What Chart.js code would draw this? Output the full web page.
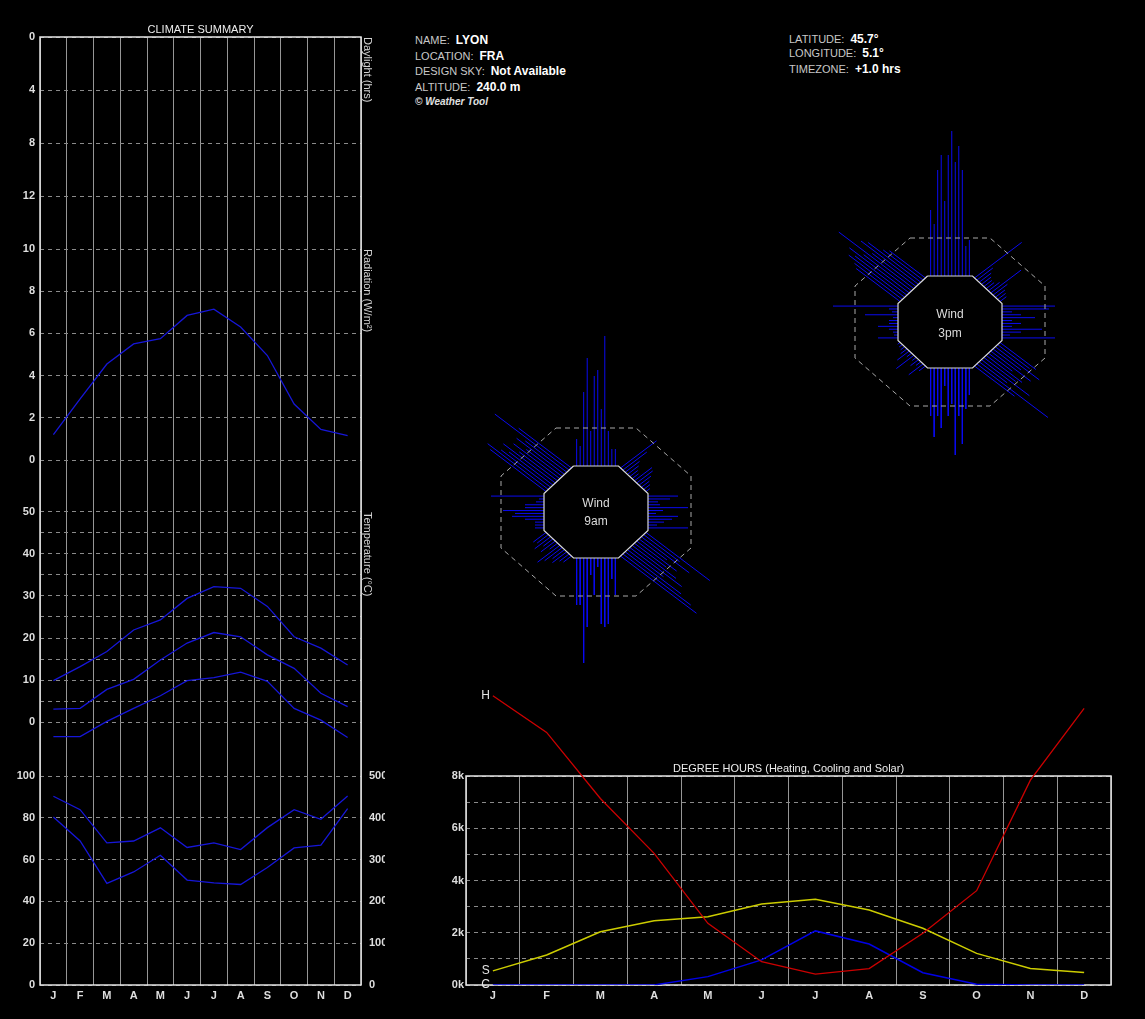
<!DOCTYPE html>
<html>
<head>
<meta charset="utf-8">
<script src="https://cdn.jsdelivr.net/npm/chart.js@4"></script>
<style>
  html, body { margin: 0; padding: 0; background: #000; }
  body { width: 1145px; height: 1019px; position: relative; overflow: hidden; font-family: Arial, "Liberation Sans", sans-serif; }
  canvas { position: absolute; }
  .info { position: absolute; font-size: 11px; line-height: 14px; color: #c8c8c8; white-space: nowrap; }
  .info b { color: #fff; font-size: 12px; margin-left: 6px; }
  .copy { position: absolute; left: 415px; top: 96px; font-size: 10px; line-height: 12px; font-style: italic; font-weight: bold; color: #e0e0e0; }
  .wtag { position: absolute; width: 60px; text-align: center; font-size: 12px; line-height: 14px; color: #dcdcdc; }
</style>
</head>
<body>
<canvas id="climate" width="385" height="1010" style="left:0;top:0"></canvas>
<canvas id="wind9" width="280" height="400" style="left:456px;top:312px"></canvas>
<canvas id="wind3" width="280" height="400" style="left:810px;top:122px"></canvas>
<canvas id="degree" width="715" height="330" style="left:410px;top:680px"></canvas>

<div class="info" style="left:415px;top:33px">NAME:<b>LYON</b></div>
<div class="info" style="left:415px;top:49px">LOCATION:<b>FRA</b></div>
<div class="info" style="left:415px;top:64px">DESIGN SKY:<b>Not Available</b></div>
<div class="info" style="left:415px;top:80px">ALTITUDE:<b>240.0 m</b></div>
<div class="copy">© Weather Tool</div>
<div class="info" style="left:789px;top:32px">LATITUDE:<b>45.7°</b></div>
<div class="info" style="left:789px;top:46px">LONGITUDE:<b>5.1°</b></div>
<div class="info" style="left:789px;top:62px">TIMEZONE:<b>+1.0 hrs</b></div>

<div class="wtag" style="left:566px;top:496px">Wind</div>
<div class="wtag" style="left:566px;top:514px">9am</div>
<div class="wtag" style="left:920px;top:307px">Wind</div>
<div class="wtag" style="left:920px;top:326px">3pm</div>

<script>
// ---- data ----
const months = ['J', 'F', 'M', 'A', 'M', 'J', 'J', 'A', 'S', 'O', 'N', 'D'];

const radiation = [1.2, 2.9, 4.55, 5.5, 5.75, 6.85, 7.15, 6.3, 4.95, 2.65, 1.45, 1.15];
const tempMax = [9.9, 13.2, 16.8, 21.9, 24.3, 29.4, 32.2, 31.8, 27.5, 20.3, 17.6, 13.6];
const tempMean = [3.1, 3.3, 7.8, 10.2, 14.8, 18.8, 21.3, 20.3, 16.0, 12.8, 6.9, 3.7];
const tempMin = [-3.4, -3.4, 0.2, 3.3, 6.3, 9.9, 10.6, 11.9, 9.7, 3.3, 0.5, -3.6];
const humMax = [90.3, 83.9, 68.0, 68.9, 75.2, 65.8, 68.0, 64.8, 75.3, 83.9, 79.3, 90.4];
const humMin = [80.4, 68.9, 48.6, 54.1, 62.1, 50.2, 48.9, 48.1, 56.2, 65.6, 66.9, 84.4];

const heating = [11070, 9670, 7140, 5040, 2360, 890, 420, 630, 1980, 3610, 7840, 10590];
const cooling = [0, 0, 0, 0, 320, 960, 2070, 1570, 470, 30, 0, 0];
const solar = [540, 1150, 2040, 2460, 2610, 3100, 3280, 2870, 2170, 1210, 630, 480];

// axis ticks
const dayTicks = [0, 2, 4, 6, 8, 10, 12, 14, 16];
const dayLabels = [0, 4, 8, 12];
const radTicks = [0, 1, 2, 3, 4, 5, 6, 7, 8, 9, 10];
const radLabels = [0, 2, 4, 6, 8, 10];
const tempTicks = [0, 5, 10, 15, 20, 25, 30, 35, 40, 45, 50];
const tempLabels = [0, 10, 20, 30, 40, 50];
const humTicks = [0, 10, 20, 30, 40, 50, 60, 70, 80, 90, 100];
const humLabels = [0, 20, 40, 60, 80, 100];
const degTicks = [0, 1000, 2000, 3000, 4000, 5000, 6000, 7000, 8000];
const degLabels = [0, 2000, 4000, 6000, 8000];

// wind bar lengths, 12 per side, clockwise along each octagon side
const windDirs = ['N', 'NE', 'E', 'SE', 'S', 'SW', 'W', 'NW'];
const wind9am = [
  [27, 20, 74, 108, 35, 90, 96, 57, 130, 35, 17, 17],
  [45, 30, 18, 14, 10, 8, 22, 20, 15, 10, 8, 5],
  [30, 22, 10, 12, 40, 15, 8, 30, 24, 16, 9, 40],
  [80, 45, 60, 35, 50, 40, 55, 65, 45, 70, 85, 95],
  [37, 21, 66, 69, 66, 9, 37, 17, 69, 105, 47, 47],
  [10, 12, 18, 15, 22, 28, 10, 18, 12, 20, 14, 16],
  [9, 9, 9, 19, 32, 29, 41, 19, 19, 8, 5, 53],
  [70, 76, 62, 55, 65, 48, 58, 45, 60, 52, 93, 66]
];
const wind3pm = [
  [66, 52, 106, 121, 75, 121, 145, 114, 130, 106, 30, 36],
  [59, 20, 15, 12, 10, 10, 14, 38, 18, 12, 10, 8],
  [53, 47, 10, 19, 33, 10, 19, 10, 40, 19, 8, 53],
  [45, 40, 55, 35, 50, 30, 45, 40, 60, 35, 89, 50],
  [27, 41, 76, 48, 87, 36, 48, 18, 60, 48, 69, 48],
  [8, 18, 6, 10, 5, 22, 6, 15, 8, 5, 4, 3],
  [20, 4, 5, 9, 20, 9, 9, 5, 33, 6, 9, 65],
  [55, 60, 70, 65, 75, 60, 94, 55, 72, 66, 50, 45]
];

// ---- styles ----
const FONT = 'Arial, "Liberation Sans", sans-serif';
const BLUE = '#1616d8';
const TICK_C = '#dedede';
const GRID_V = '#969696';
const GRID_H = '#8a8a8a';
const boldFont = { family: FONT, size: 11, weight: 'bold' };
const plainFont = { family: FONT, size: 11, weight: 'normal' };

const frame = {
  id: 'frame',
  beforeDatasetsDraw(chart) {
    const { ctx, chartArea: a } = chart;
    ctx.save();
    ctx.strokeStyle = '#e6e6e6';
    ctx.lineWidth = 1.5;
    ctx.strokeRect(a.left, a.top, a.right - a.left, a.bottom - a.top);
    ctx.restore();
  }
};

function monthAxis() {
  return {
    type: 'category',
    offset: true,
    grid: { offset: true, color: GRID_V, drawTicks: false },
    border: { display: false },
    ticks: { color: TICK_C, font: boldFont, padding: 4, maxRotation: 0, autoSkip: false },
    afterFit: s => { s.height = 25; }
  };
}

function leftAxis(weight, stackWeight, min, max, tickVals, labelVals, reverse) {
  return {
    type: 'linear',
    position: 'left',
    stack: 'clim',
    stackWeight: stackWeight,
    weight: weight,
    reverse: !!reverse,
    min: min,
    max: max,
    afterBuildTicks: s => { s.ticks = tickVals.map(v => ({ value: v })); },
    ticks: {
      color: TICK_C, font: boldFont, padding: 5,
      callback: v => labelVals.includes(v) ? String(v) : ''
    },
    grid: { color: GRID_H, drawTicks: false },
    border: { display: false, dash: [4, 4] },
    afterFit: s => { s.width = 40; }
  };
}

function rightTitle(weight, stackWeight, text) {
  return {
    type: 'linear',
    position: 'right',
    stack: 'climR',
    stackWeight: stackWeight,
    weight: weight,
    ticks: { display: false },
    grid: { display: false },
    border: { display: false },
    title: {
      display: !!text, text: text || '', align: 'end', color: '#d4d4d4',
      font: plainFont, padding: { top: 11, bottom: 0 }
    },
    afterFit: s => { s.width = 24; }
  };
}

function climLine(data, axis) {
  return { data: data, yAxisID: axis, borderColor: BLUE, borderWidth: 1.3, pointRadius: 0, tension: 0, fill: false };
}

// ---- climate summary ----
new Chart(document.getElementById('climate'), {
  type: 'line',
  data: {
    labels: months,
    datasets: [
      climLine(radiation, 'yRad'),
      climLine(tempMax, 'yTemp'),
      climLine(tempMean, 'yTemp'),
      climLine(tempMin, 'yTemp'),
      climLine(humMax, 'yHum'),
      climLine(humMin, 'yHum')
    ]
  },
  options: {
    responsive: false,
    animation: false,
    events: [],
    devicePixelRatio: 1,
    layout: { padding: 0 },
    plugins: {
      legend: { display: false },
      tooltip: { enabled: false },
      title: {
        display: true, text: 'CLIMATE SUMMARY', color: '#ececec', font: plainFont,
        fullSize: false, padding: { top: 23, bottom: 0.8 }
      }
    },
    scales: {
      x: monthAxis(),
      yDay: leftAxis(4, 212, 0, 16, dayTicks, dayLabels, true),
      yRad: leftAxis(3, 211, 0, 10, radTicks, radLabels),
      yTemp: leftAxis(2, 316, -12.75, 62.25, tempTicks, tempLabels),
      yHum: leftAxis(1, 209, 0, 100, humTicks, humLabels),
      rDay: rightTitle(1, 212, 'Daylight (hrs)'),
      rRad: rightTitle(2, 211, 'Radiation (W/m²)'),
      rGap: rightTitle(3, 52, ''),
      rTemp: rightTitle(4, 264, 'Temperature (°C)'),
      rHum: {
        type: 'linear', position: 'right', stack: 'climR', stackWeight: 209, weight: 5,
        min: 0, max: 500,
        ticks: { stepSize: 100, color: TICK_C, font: boldFont, padding: 8 },
        grid: { display: false, drawTicks: false },
        border: { display: false },
        afterFit: s => { s.width = 24; }
      }
    }
  },
  plugins: [frame]
});

// ---- wind roses ----
const innerOct = [[-22.5, 46], [22.5, 46], [52, 18.5], [52, -18.5], [22.5, -46], [-22.5, -46], [-52, -18.5], [-52, 18.5]];
const outerOct = [[-40, 84], [40, 84], [95, 36], [95, -36], [40, -84], [-40, -84], [-95, -36], [-95, 36]];
const diagA = 37 * Math.PI / 180;
const ca = Math.cos(diagA), sa = Math.sin(diagA);
const rayDir = [[0, 1], [ca, sa], [1, 0], [ca, -sa], [0, -1], [-ca, -sa], [-1, 0], [-ca, sa]];

function ring(pts) {
  return pts.concat([pts[0]]).map(p => ({ x: p[0], y: p[1] }));
}

function bundle(lengths, side) {
  const [x0, y0] = innerOct[side];
  const [x1, y1] = innerOct[(side + 1) % 8];
  const [dx, dy] = rayDir[side];
  const pts = [];
  lengths.forEach((len, i) => {
    const t = 0.07 + 0.86 * i / (lengths.length - 1);
    const sx = x0 + (x1 - x0) * t, sy = y0 + (y1 - y0) * t;
    pts.push({ x: sx, y: sy }, { x: sx + dx * len, y: sy + dy * len }, { x: null, y: null });
  });
  return pts;
}

function windRose(id, bars) {
  const datasets = [
    { label: 'inner', data: ring(innerOct), showLine: true, borderColor: '#dadada', borderWidth: 1.2, pointRadius: 0 },
    { label: 'outer', data: ring(outerOct), showLine: true, borderColor: '#a8a8a8', borderWidth: 1, borderDash: [5, 4], pointRadius: 0 }
  ];
  bars.forEach((lengths, side) => {
    datasets.push({ label: windDirs[side], data: bundle(lengths, side), showLine: true, borderColor: '#0a0af0', borderWidth: 1, pointRadius: 0 });
  });
  new Chart(document.getElementById(id), {
    type: 'scatter',
    data: { datasets: datasets },
    options: {
      responsive: false,
      animation: false,
      events: [],
      devicePixelRatio: 1,
      layout: { padding: 0 },
      plugins: { legend: { display: false }, tooltip: { enabled: false } },
      scales: {
        x: { type: 'linear', min: -140, max: 140, display: false },
        y: { type: 'linear', min: -200, max: 200, display: false }
      }
    }
  });
}

windRose('wind9', wind9am);
windRose('wind3', wind3pm);

// ---- degree hours ----
const seriesTags = {
  id: 'seriesTags',
  afterDatasetsDraw(chart) {
    const ctx = chart.ctx;
    ctx.save();
    ctx.fillStyle = '#e4e4e4';
    ctx.font = '12px ' + FONT;
    ctx.textAlign = 'right';
    ctx.textBaseline = 'middle';
    chart.data.datasets.forEach((ds, i) => {
      const pt = chart.getDatasetMeta(i).data[0];
      ctx.fillText(ds.tag, pt.x - 3, pt.y);
    });
    ctx.restore();
  }
};

new Chart(document.getElementById('degree'), {
  type: 'line',
  data: {
    labels: months,
    datasets: [
      { tag: 'H', data: heating, borderColor: '#cc0000', borderWidth: 1.3, pointRadius: 0, clip: false },
      { tag: 'S', data: solar, borderColor: '#cccc00', borderWidth: 1.5, pointRadius: 0 },
      { tag: 'C', data: cooling, borderColor: '#0000e6', borderWidth: 1.5, pointRadius: 0 }
    ]
  },
  options: {
    responsive: false,
    animation: false,
    events: [],
    devicePixelRatio: 1,
    layout: { padding: { right: 14 } },
    plugins: {
      legend: { display: false },
      tooltip: { enabled: false },
      title: {
        display: true, text: 'DEGREE HOURS (Heating, Cooling and Solar)', color: '#ececec',
        font: plainFont, fullSize: false, padding: { top: 82, bottom: 0.8 }
      }
    },
    scales: {
      x: monthAxis(),
      y: {
        type: 'linear', min: 0, max: 8000,
        afterBuildTicks: s => { s.ticks = degTicks.map(v => ({ value: v })); },
        ticks: {
          color: TICK_C, font: boldFont, padding: 2,
          callback: v => degLabels.includes(v) ? (v / 1000) + 'k' : ''
        },
        grid: { color: GRID_H, drawTicks: false },
        border: { display: false, dash: [4, 4] },
        afterFit: s => { s.width = 56; }
      }
    }
  },
  plugins: [frame, seriesTags]
});
</script>
</body>
</html>
